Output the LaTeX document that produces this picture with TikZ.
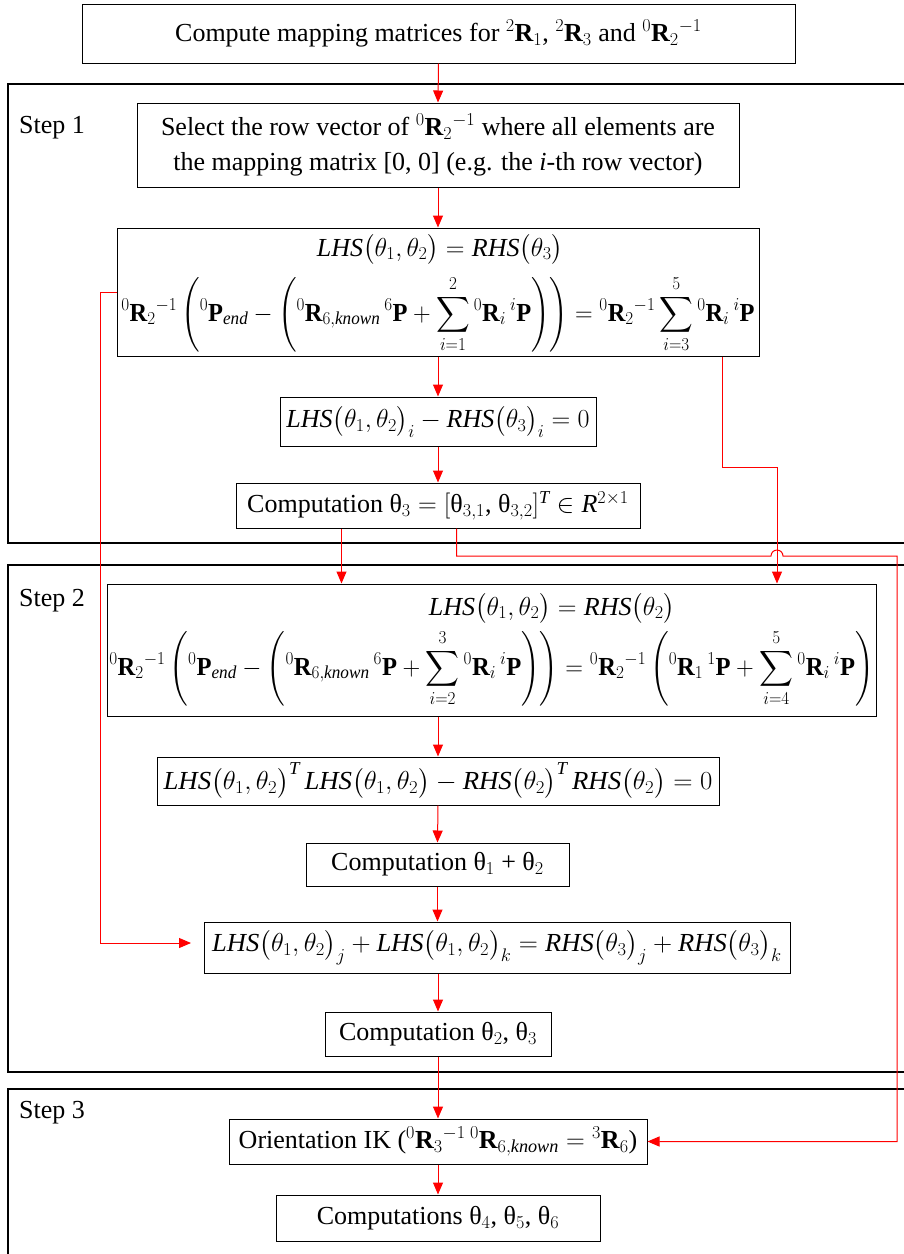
\documentclass[tikz,border=0pt]{standalone}
\usepackage{fix-cm}
\usepackage{exscale}
\usepackage{fontspec}
\setmainfont{Liberation Serif}
\usetikzlibrary{arrows.meta}
\newcommand\ut[1]{θ$_{#1}$}
\newcommand\mt[1]{\mbox{θ}_{#1}}
\newcommand\bR{\mathbf{R}}
\newcommand\bP{\mathbf{P}}
\newcommand\pre[1]{{}^{#1}}
\tikzset{
  every node/.style={font=\fontsize{26}{31}\selectfont},
  box/.style={draw=black, line width=1pt, inner sep=0pt, align=center},
  frame/.style={draw=black, line width=2pt},
  flow/.style={draw=red, line width=1pt, -{Triangle[length=12pt,width=10pt]}},
  eqline/.style={anchor=base, inner sep=0pt},
  steplabel/.style={anchor=base west, inner sep=0pt},
}
\begin{document}
\begin{tikzpicture}[x=1pt,y=-1pt]
\useasboundingbox (0,0) rectangle (904,1254);
% frames
\draw[frame] (8,84) rectangle (940,543);
\draw[frame] (8,565) rectangle (940,1072);
\draw[frame] (8,1089) rectangle (940,1290);
\node[steplabel] (s1) at (19,133) {Step 1};
\node[steplabel] (s2) at (19,606) {Step 2};
\node[steplabel] (s3) at (19,1118) {Step 3};
% boxes
\node[box, minimum width=713pt, minimum height=59pt] (top) at (438.5,33.5)
  {Compute mapping matrices for $\pre2\bR_1$, $\pre2\bR_3$ and $\pre0\bR_2{}^{-1}$};
\node[box, minimum width=602pt, minimum height=84pt, font=\fontsize{26}{35}\selectfont] (sel) at (438,145)
  {Select the row vector of $\pre0\bR_2{}^{-1}$ where all elements are\\ the mapping matrix [0, 0] (e.g. the \textit{i}-th row vector)};
\node[box, minimum width=642pt, minimum height=128pt] (eq1) at (438,292) {};
\node[eqline] (eq1a) at (440,256) {$\mathit{LHS}\bigl(\theta_1,\theta_2\bigr)=\mathit{RHS}\bigl(\theta_3\bigr)$};
\node[eqline] (eq1b) at (438,321) {\scalebox{0.94}[1]{$\displaystyle \pre0\bR_2{}^{-1}\left(\pre0\bP_{\mathit{end}}-\left(\pre0\bR_{6,\mathit{known}}\,\pre6\bP+\sum_{i=1}^{2}\pre0\bR_i\,\pre{i}\bP\right)\right)=\pre0\bR_2{}^{-1}\sum_{i=3}^{5}\pre0\bR_i\,\pre{i}\bP$}};
\node[box, minimum width=316pt, minimum height=49pt] (eqi) at (438,421.5)
  {$\mathit{LHS}\bigl(\theta_1,\theta_2\bigr)_i-\mathit{RHS}\bigl(\theta_3\bigr)_i=0$};
\node[box, minimum width=404pt, minimum height=45pt] (comp3) at (438,505.5)
  {Computation $\mt3 = [\mt{3,1}$, $\mt{3,2}]^{\mathit{T}}\in\mathit{R}^{2\times1}$};
\node[box, minimum width=769pt, minimum height=132pt] (eq2) at (491.5,650) {};
\node[eqline] (eq2a) at (552,615) {$\mathit{LHS}\bigl(\theta_1,\theta_2\bigr)=\mathit{RHS}\bigl(\theta_2\bigr)$};
\node[eqline] (eq2b) at (491.5,675) {\scalebox{0.945}[1]{$\displaystyle \pre0\bR_2{}^{-1}\left(\pre0\bP_{\mathit{end}}-\left(\pre0\bR_{6,\mathit{known}}\,\pre6\bP+\sum_{i=2}^{3}\pre0\bR_i\,\pre{i}\bP\right)\right)=\pre0\bR_2{}^{-1}\left(\pre0\bR_1\,\pre1\bP+\sum_{i=4}^{5}\pre0\bR_i\,\pre{i}\bP\right)$}};
\node[box, minimum width=562pt, minimum height=48pt] (eqT) at (438,781)
  {\scalebox{1.03}[1]{$\mathit{LHS}\bigl(\theta_1,\theta_2\bigr)^{\mathit{T}}\,\mathit{LHS}\bigl(\theta_1,\theta_2\bigr)-\mathit{RHS}\bigl(\theta_2\bigr)^{\mathit{T}}\,\mathit{RHS}\bigl(\theta_2\bigr)=0$}};
\node[box, minimum width=263pt, minimum height=43pt] (comp12) at (437.5,864.5)
  {Computation \ut1 + \ut2};
\node[box, minimum width=586pt, minimum height=51pt] (eqjk) at (497,947.5)
  {\scalebox{1.02}[1]{$\mathit{LHS}\bigl(\theta_1,\theta_2\bigr)_j+\mathit{LHS}\bigl(\theta_1,\theta_2\bigr)_k=\mathit{RHS}\bigl(\theta_3\bigr)_j+\mathit{RHS}\bigl(\theta_3\bigr)_k$}};
\node[box, minimum width=226pt, minimum height=44pt] (comp23) at (438,1034)
  {Computation \ut2, \ut3};
\node[box, minimum width=418pt, minimum height=45pt] (orient) at (438,1141.5)
  {Orientation IK ($\pre0\bR_3{}^{-1}\,\pre0\bR_{6,\mathit{known}}=\pre3\bR_6$)};
\node[box, minimum width=324pt, minimum height=46pt] (comp456) at (438,1218)
  {Computations \ut4, \ut5, \ut6};
% route coordinates
\coordinate (hop) at (771,556);
\coordinate (r1) at (897,556);
\coordinate (c2) at (777,467);
\coordinate (lft) at (100,943);
\coordinate (tip) at (191,943);
% connectors
\draw[flow] (top.south) -- (sel.north);
\draw[flow] (sel.south) -- (eq1.north);
\draw[flow] (eq1.south) -- (eqi.north);
\draw[flow] (eqi.south) -- (comp3.north);
\draw[flow] ([xshift=106pt]comp3.south west) -- ([xshift=106pt]comp3.south west |- eq2.north);
\draw[flow] ([xshift=221pt]comp3.south west) |- (hop) arc[start angle=180,end angle=0,radius=6pt] -- (r1) |- (orient.east);
\draw[flow] ([xshift=606pt]eq1.south west) |- (c2) -- (c2 |- eq2.north);
\draw[flow] (eq1.west) -| (lft) -- (tip);
\draw[flow] (eqT.north |- eq2.south) -- (eqT.north);
\draw[flow] (eqT.south) -- (comp12.north);
\draw[flow] (comp12.south) -- (comp12.south |- eqjk.north);
\draw[flow] (comp23.north |- eqjk.south) -- (comp23.north);
\draw[flow] (comp23.south) -- (orient.north);
\draw[flow] (orient.south) -- (comp456.north);
\end{tikzpicture}
\end{document}
